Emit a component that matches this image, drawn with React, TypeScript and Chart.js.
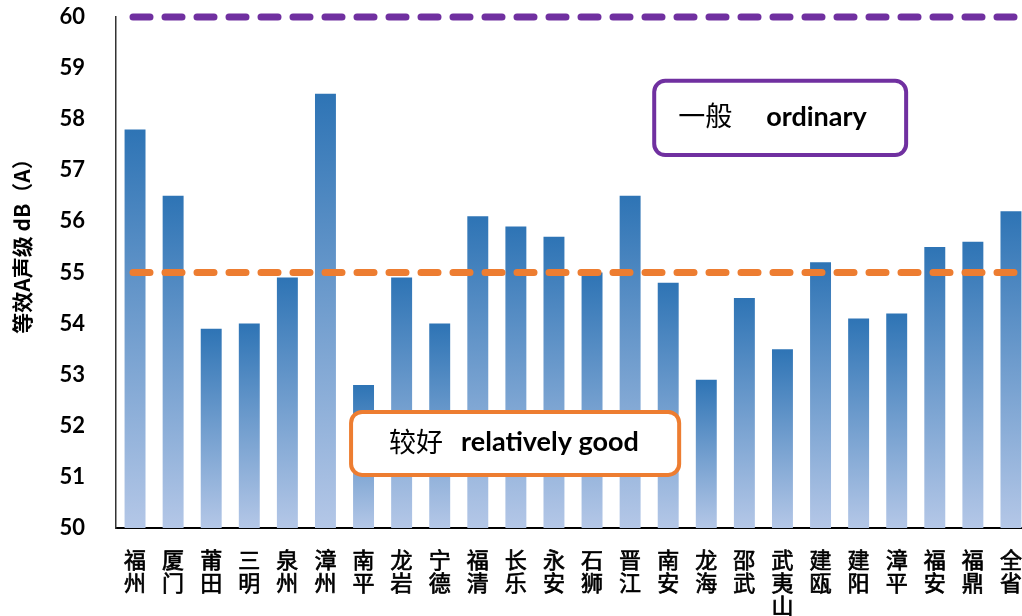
import React, { useEffect, useRef } from "react";
import { Chart, registerables } from "chart.js";

Chart.register(...registerables);

// ---- data ----
const categories: string[] = [
  "福州", "厦门", "莆田", "三明", "泉州", "漳州", "南平", "龙岩", "宁德", "福清", "长乐", "永安",
  "石狮", "晋江", "南安", "龙海", "邵武", "武夷山", "建瓯", "建阳", "漳平", "福安", "福鼎", "全省",
];
const noiseLevels: number[] = [
  57.8, 56.5, 53.9, 54.0, 54.9, 58.5, 52.8, 54.9, 54.0, 56.1, 55.9, 55.7,
  55.0, 56.5, 54.8, 52.9, 54.5, 53.5, 55.2, 54.1, 54.2, 55.5, 55.6, 56.2,
];
const yMin = 50;
const yMax = 60;
const yStep = 1;
const goodThreshold = 55;
const ordinaryThreshold = 60;
const yAxisTitle = "等效A声级 dB（A）";
const ordinaryLabel = ["一般", "ordinary"];
const goodLabel = ["较好", "relatively good"];

// ---- annotation placement (in scale units) ----
const ordinaryBox = { x1: 13.58, x2: 20.3, yTop: 58.79, yBottom: 57.26, color: "#7030A0", latinOffset: 114, cjkOffset: 26 };
const goodBox = { x1: 5.62, x2: 14.34, yTop: 52.31, yBottom: 51.0, color: "#ED7D31", latinOffset: 112, cjkOffset: 40 };

const CJK = '"Noto Sans CJK SC", sans-serif';
const LATIN = 'Lato, "Open Sans", sans-serif';

const overlayPlugin = {
  id: "overlay",
  afterDatasetsDraw(chart: any) {
    const { ctx, chartArea, scales } = chart;
    const x = scales.x;
    const y = scales.y;

    const dashLine = (val: number, color: string) => {
      const py = y.getPixelForValue(val);
      ctx.save();
      ctx.strokeStyle = color;
      ctx.lineWidth = 7;
      ctx.lineCap = "round";
      ctx.setLineDash([17, 15]);
      ctx.beginPath();
      ctx.moveTo(chartArea.left + 17, py);
      ctx.lineTo(chartArea.right + 20, py);
      ctx.stroke();
      ctx.restore();
    };
    dashLine(goodThreshold, "#ED7D31");
    dashLine(ordinaryThreshold, "#7030A0");

    const drawBox = (b: any, label: string[]) => {
      const left = x.getPixelForValue(b.x1);
      const right = x.getPixelForValue(b.x2);
      const top = y.getPixelForValue(b.yTop);
      const bottom = y.getPixelForValue(b.yBottom);
      const lw = 4;
      ctx.save();
      ctx.beginPath();
      ctx.roundRect(left + lw / 2, top + lw / 2, right - left - lw, bottom - top - lw, 11);
      ctx.fillStyle = "#ffffff";
      ctx.fill();
      ctx.lineWidth = lw;
      ctx.strokeStyle = b.color;
      ctx.stroke();
      const cy = (top + bottom) / 2;
      ctx.fillStyle = "#000000";
      ctx.textBaseline = "middle";
      ctx.textAlign = "left";
      ctx.font = `27px ${CJK}`;
      ctx.fillText(label[0], left + b.cjkOffset, cy - 2);
      ctx.font = `bold 27px ${LATIN}`;
      ctx.fillText(label[1], left + b.latinOffset, cy - 1);
      ctx.restore();
    };
    drawBox(ordinaryBox, ordinaryLabel);
    drawBox(goodBox, goodLabel);
  },
  afterDraw(chart: any) {
    const { ctx } = chart;
    ctx.save();
    ctx.translate(22, 241);
    ctx.rotate(-Math.PI / 2);
    ctx.font = `bold 21px ${CJK}`;
    ctx.fillStyle = "#000";
    ctx.textAlign = "center";
    ctx.textBaseline = "middle";
    ctx.fillText(yAxisTitle, 0, 0);
    ctx.restore();
  },
};

export default function App() {
  const ref = useRef<HTMLCanvasElement | null>(null);

  useEffect(() => {
    if (!ref.current) return;
    const chart = new Chart(ref.current, {
      type: "bar",
      data: {
        labels: categories.map((c) => c.split("")),
        datasets: [
          {
            data: noiseLevels,
            borderWidth: 0,
            barPercentage: 0.55,
            categoryPercentage: 1,
            backgroundColor: (c: any) => {
              const ch = c.chart;
              if (!ch.chartArea || c.type !== "data") return "#2E75B6";
              const ys = ch.scales.y;
              const top = ys.getPixelForValue(c.raw);
              const bottom = ys.getPixelForValue(yMin);
              const g = ch.ctx.createLinearGradient(0, top, 0, bottom);
              g.addColorStop(0, "#2E74B5");
              g.addColorStop(1, "#B4C7E7");
              return g;
            },
          },
        ],
      },
      options: {
        responsive: false,
        devicePixelRatio: 1,
        animation: false,
        layout: { padding: { top: 17, right: 10, left: 0, bottom: 0 } },
        plugins: { legend: { display: false }, tooltip: { enabled: false } },
        scales: {
          x: {
            grid: { display: false },
            border: { display: true, color: "#000", width: 2 },
            ticks: {
              font: { family: CJK, size: 22, lineHeight: 1.05 },
              color: "#000",
              textStrokeColor: "#000",
              textStrokeWidth: 0.7,
              padding: 12,
              maxRotation: 0,
              minRotation: 0,
              autoSkip: false,
            },
            afterFit(s: any) {
              s.height = 88;
              s.paddingLeft = 0;
              s.paddingRight = 0;
            },
          },
          y: {
            min: yMin,
            max: yMax,
            grid: { display: false },
            border: { display: true, color: "#333", width: 1.5 },
            ticks: {
              stepSize: yStep,
              font: { family: LATIN, size: 22, weight: "bold" },
              color: "#000",
              padding: 23,
            },
            afterFit(s: any) {
              s.width = 116;
              s.paddingTop = 0;
              s.paddingBottom = 0;
            },
          },
        },
      },
      plugins: [overlayPlugin],
    } as any);
    return () => chart.destroy();
  }, []);

  return (
    <div style={{ position: "fixed", left: 0, top: 0, width: 1022, height: 616, overflow: "hidden", background: "#fff" }}>
      <canvas ref={ref} width={1040} height={616} style={{ display: "block" }} />
    </div>
  );
}
